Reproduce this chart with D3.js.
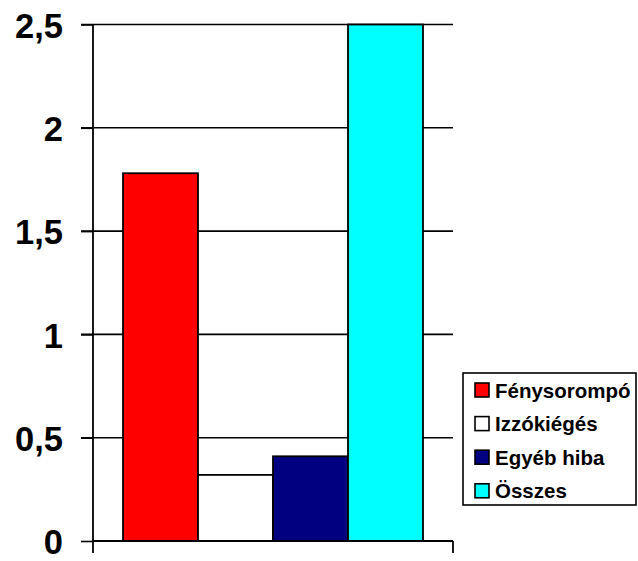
<!DOCTYPE html>
<html>
<head>
<meta charset="utf-8">
<script src="https://cdn.jsdelivr.net/npm/d3@7"></script>
<style>
  html, body { margin: 0; padding: 0; background: #fff; }
  svg { display: block; font-family: "Liberation Sans", Arial, sans-serif; font-weight: bold; }
</style>
</head>
<body>
<svg id="chart" width="638" height="561"></svg>
<script>
// Series of the single category group
const seriesNames = ["Fénysorompó", "Izzókiégés", "Egyéb hiba", "Összes"];
const seriesValues = [1.78, 0.32, 0.41, 2.51];
const seriesColors = ["#ff0000", "#ffffff", "#000080", "#00ffff"];

// Value axis ticks
const yTicks = [0, 0.5, 1, 1.5, 2, 2.5];
const yTickLabels = ["0", "0,5", "1", "1,5", "2", "2,5"];

const svg = d3.select("#chart");

const plot = { left: 93, right: 453, top: 24.5, bottom: 541 };

const y = d3.scaleLinear()
  .domain([0, 2.5])
  .range([plot.bottom, plot.top])
  .clamp(true);

const x = d3.scaleBand()
  .domain(seriesNames)
  .range([plot.left, plot.right])
  .paddingInner(0)
  .paddingOuter(0.4);

// Horizontal gridlines with outside ticks
const grid = svg.append("g");
grid.selectAll("line")
  .data(yTicks.filter(d => d > 0))
  .join("line")
  .attr("x1", plot.left - 12)
  .attr("x2", plot.right)
  .attr("y1", d => y(d))
  .attr("y2", d => y(d))
  .attr("stroke", "#000")
  .attr("stroke-width", 1.6);

// Value axis
const yAxis = d3.axisLeft(y)
  .tickValues(yTicks)
  .tickFormat((d, i) => yTickLabels[i])
  .tickSize(12)
  .tickPadding(18);

const yAxisG = svg.append("g")
  .attr("transform", `translate(${plot.left},0)`)
  .call(yAxis);
yAxisG.select(".domain").remove();
yAxisG.selectAll(".tick line").attr("stroke", "#000").attr("stroke-width", 1.6);
yAxisG.selectAll(".tick text")
  .attr("fill", "#000")
  .attr("dy", "0.37em")
  .style("font-size", "34.5px")
  .style("font-weight", "bold")
  .style("font-family", "'Liberation Sans', Arial, sans-serif");

// Vertical axis line (extends below the baseline as a category tick)
svg.append("line")
  .attr("x1", plot.left).attr("x2", plot.left)
  .attr("y1", plot.top).attr("y2", plot.bottom + 12)
  .attr("stroke", "#000").attr("stroke-width", 1.8);

// Bars
svg.append("g")
  .selectAll("rect")
  .data(seriesNames.map((n, i) => ({ name: n, value: seriesValues[i], color: seriesColors[i] })))
  .join("rect")
  .attr("x", d => x(d.name))
  .attr("y", d => y(d.value))
  .attr("width", x.bandwidth())
  .attr("height", d => y(0) - y(d.value))
  .attr("fill", d => d.color)
  .attr("stroke", "#000")
  .attr("stroke-width", 1.8);

// Category axis baseline with end tick
svg.append("line")
  .attr("x1", plot.left).attr("x2", plot.right)
  .attr("y1", plot.bottom).attr("y2", plot.bottom)
  .attr("stroke", "#000").attr("stroke-width", 2.2);
svg.append("line")
  .attr("x1", plot.right).attr("x2", plot.right)
  .attr("y1", plot.bottom).attr("y2", plot.bottom + 12)
  .attr("stroke", "#000").attr("stroke-width", 1.8);

// Legend
const legend = svg.append("g").attr("transform", "translate(463,373)");
legend.append("rect")
  .attr("x", 0).attr("y", 0)
  .attr("width", 173).attr("height", 132)
  .attr("fill", "#fff")
  .attr("stroke", "#000")
  .attr("stroke-width", 1.6);

const items = legend.selectAll("g.item")
  .data(seriesNames.map((n, i) => ({ name: n, color: seriesColors[i] })))
  .join("g")
  .attr("class", "item")
  .attr("transform", (d, i) => `translate(12,${10 + i * 33.6})`);

items.append("rect")
  .attr("width", 14).attr("height", 14)
  .attr("fill", d => d.color)
  .attr("stroke", "#000")
  .attr("stroke-width", 1.6);

items.append("text")
  .attr("x", 20)
  .attr("y", 14.5)
  .attr("fill", "#000")
  .style("font-size", "20.5px")
  .text(d => d.name);
</script>
</body>
</html>
